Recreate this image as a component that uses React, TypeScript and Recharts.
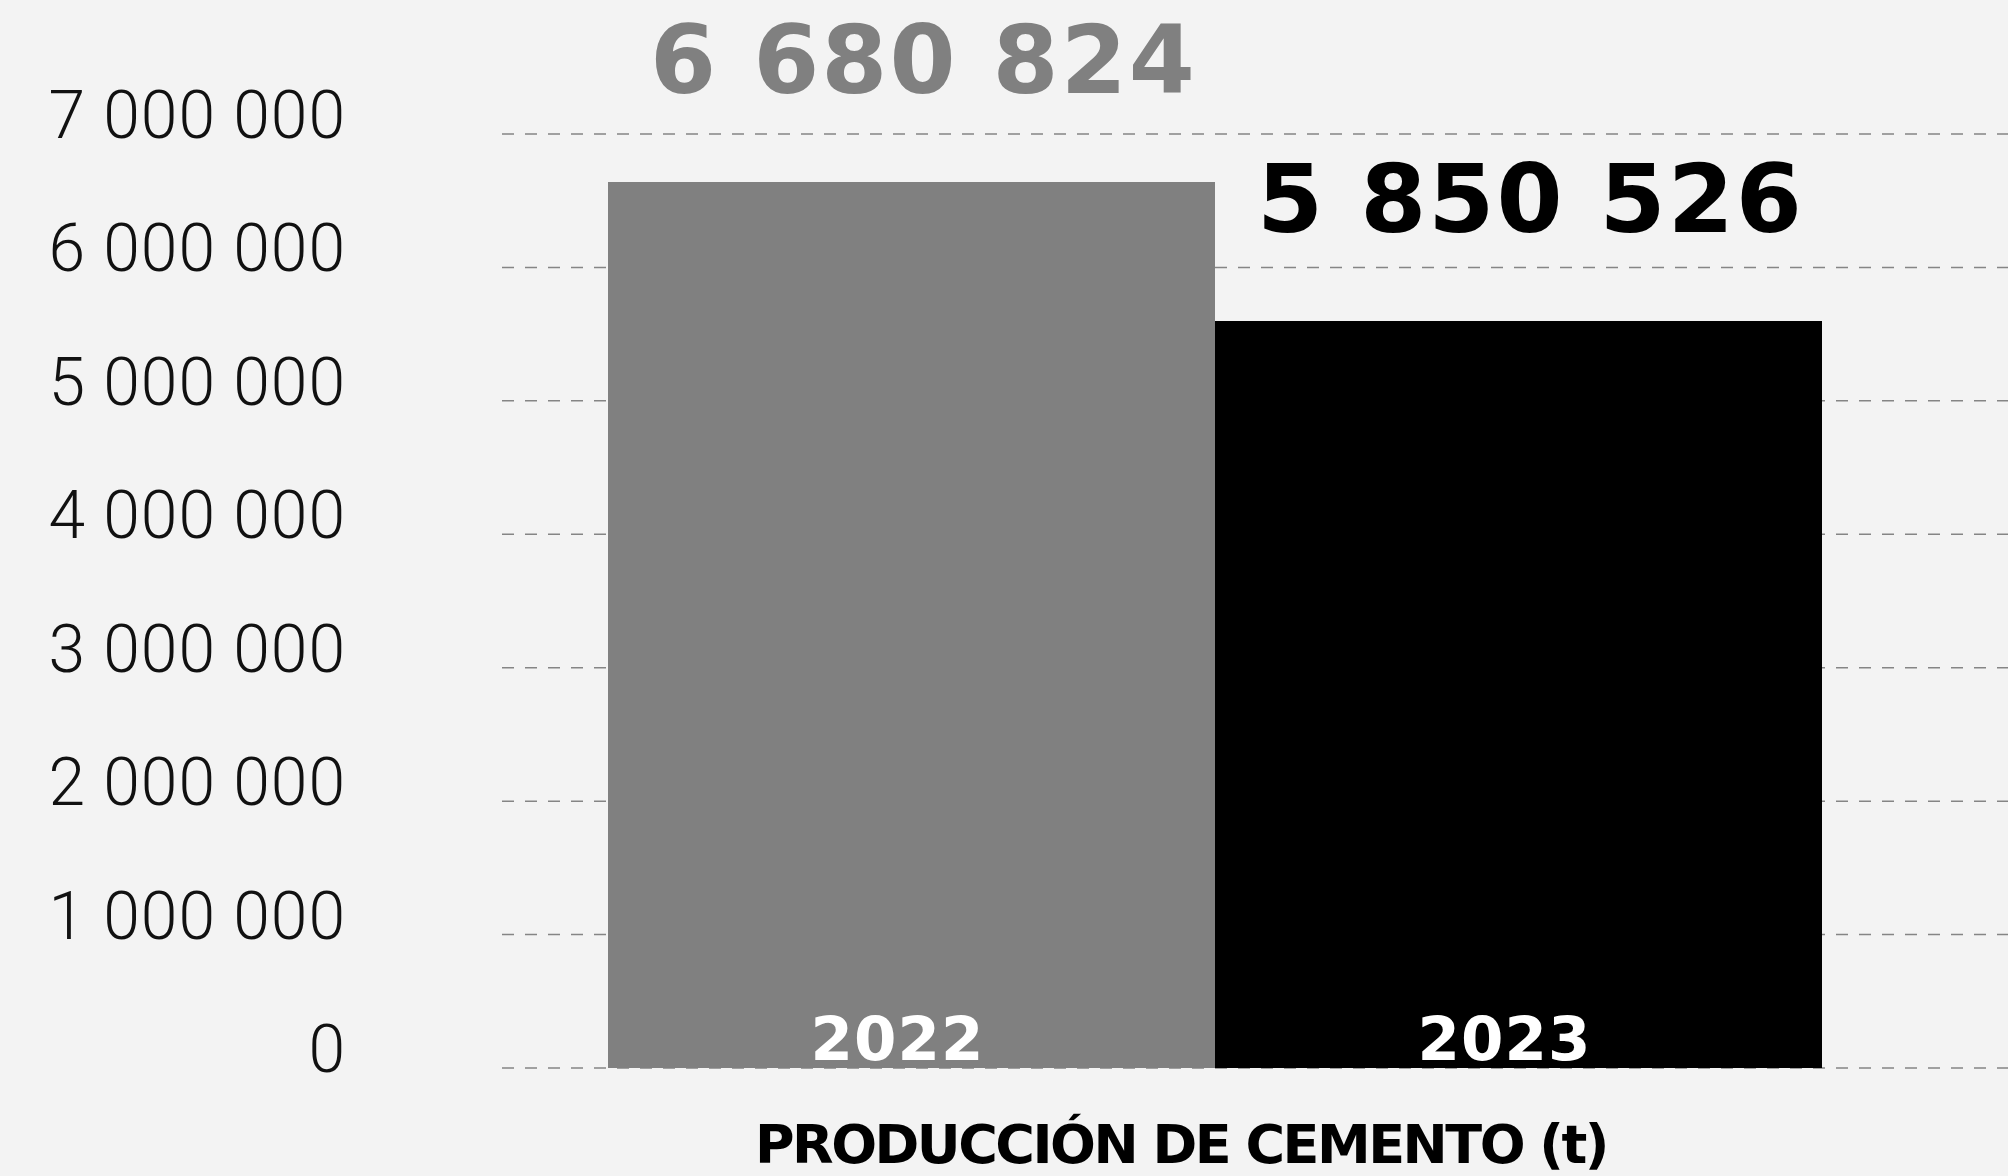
import { BarChart, Bar, XAxis, YAxis, CartesianGrid, Cell, LabelList, Label } from "recharts";

const YEARS = ["2022", "2023"];
// bar heights as drawn in the picture (the printed figures sit a bit off the axis)
const PRODUCTION = [6640000, 5598000];
const VALUE_LABELS = ["6 680 824", "5 850 526"];
const BAR_COLORS = ["#808080", "#000000"];

const Y_TICKS = [0, 1000000, 2000000, 3000000, 4000000, 5000000, 6000000, 7000000];
const Y_TICK_LABELS = ["0", "1 000 000", "2 000 000", "3 000 000", "4 000 000", "5 000 000", "6 000 000", "7 000 000"];

const TITLE = "PRODUCCIÓN DE CEMENTO (t)";

const HEAVY = "'DejaVu Sans', sans-serif";

const data = YEARS.map((year, i) => ({
  year,
  value: PRODUCTION[i],
  label: VALUE_LABELS[i],
}));

function YTick({ x, y, payload }: any) {
  const idx = Y_TICKS.indexOf(payload.value);
  return (
    <text
      x={x}
      y={y + 4}
      textAnchor="end"
      fill="#111"
      fontFamily="Roboto, sans-serif"
      fontWeight={300}
      fontSize={66}
      letterSpacing={1}
    >
      {idx >= 0 ? Y_TICK_LABELS[idx] : payload.value}
    </text>
  );
}

function XTick({ x, y, payload }: any) {
  return (
    <text
      x={x - 14}
      y={y - 8}
      textAnchor="middle"
      fill="#ffffff"
      fontFamily={HEAVY}
      fontWeight={700}
      fontSize={61}
      letterSpacing={1}
    >
      {payload.value}
    </text>
  );
}

function ValueLabel(props: any) {
  const { x, y, width, value, index } = props;
  return (
    <text
      x={x + width / 2 + 12}
      y={y - 89}
      textAnchor="middle"
      fill={BAR_COLORS[index]}
      fontFamily={HEAVY}
      fontWeight={700}
      fontSize={95}
      letterSpacing={2}
    >
      {value}
    </text>
  );
}

function TitleLabel(props: any) {
  const { x, y, width, height } = props.viewBox;
  return (
    <text
      x={x + width / 2 - 74}
      y={y + height - 5}
      textAnchor="middle"
      fill="#000"
      fontFamily={HEAVY}
      fontWeight={700}
      fontSize={54}
      letterSpacing={-2.5}
    >
      {TITLE}
    </text>
  );
}

export default function App() {
  return (
    <div
      style={{
        position: "fixed",
        left: 0,
        top: 0,
        width: 2008,
        height: 1176,
        background: "#f3f3f3",
      }}
    >
      <BarChart
        width={2008}
        height={1176}
        data={data}
        margin={{ top: 134, right: 0, bottom: 8, left: 22 }}
        barCategoryGap={0}
      >
        <CartesianGrid
          vertical={false}
          stroke="#858585"
          strokeWidth={1.5}
          strokeDasharray="12 11"
        />
        <XAxis
          dataKey="year"
          height={100}
          padding={{ left: 106, right: 186 }}
          axisLine={false}
          tickLine={false}
          tickSize={0}
          tickMargin={0}
          tick={<XTick />}
        >
          <Label content={<TitleLabel />} />
        </XAxis>
        <YAxis
          width={480}
          domain={[0, 7000000]}
          ticks={Y_TICKS}
          interval={0}
          axisLine={false}
          tickLine={false}
          tickSize={0}
          tickMargin={156}
          tick={<YTick />}
        />
        <Bar dataKey="value" isAnimationActive={false}>
          {data.map((_, i) => (
            <Cell key={i} fill={BAR_COLORS[i]} />
          ))}
          <LabelList dataKey="label" content={<ValueLabel />} />
        </Bar>
      </BarChart>
    </div>
  );
}
